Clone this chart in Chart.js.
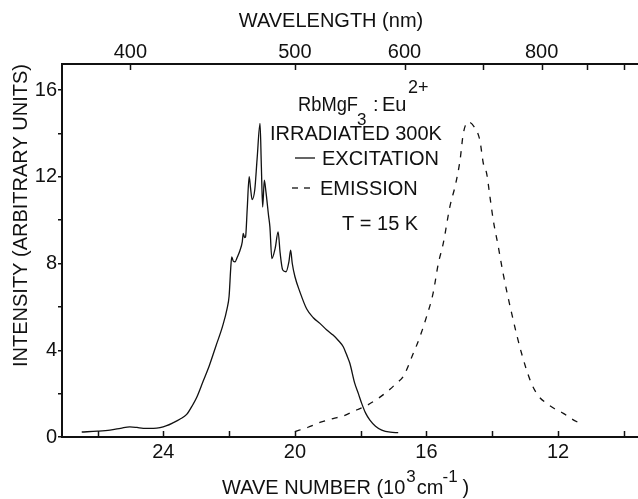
<!DOCTYPE html>
<html>
<head>
<meta charset="utf-8">
<script src="https://cdn.jsdelivr.net/npm/chart.js@4.4.1/dist/chart.umd.min.js"></script>
<style>
  html, body { margin: 0; padding: 0; background: #fff; }
  #chart { display: block; }
</style>
</head>
<body>
<canvas id="chart" width="638" height="499"></canvas>
<script>
// Wave number axis (10^3 cm^-1), drawn reversed
const waveTicks = [26, 24, 22, 20, 18, 16, 14, 12, 10]
const waveLabels = [24, 20, 16, 12]
// Wavelength axis on top (nm)
const wavelengthTicks = [400, 500, 600, 700, 800, 900, 1000]
const wavelengthLabels = [400, 500, 600, 800]
// Intensity axis
const intensityLabels = [0, 4, 8, 12, 16]

// Excitation spectrum (solid)
const excWn = [
  26.48, 26.0, 25.62, 25.3, 25.02, 24.8, 24.61, 24.3, 24.1, 23.9, 23.7, 23.5, 23.29, 23.1, 22.99, 22.79,
  22.6, 22.4, 22.2, 22.06, 22.0, 21.95, 21.92, 21.87, 21.82, 21.75, 21.67, 21.6, 21.57, 21.53, 21.5,
  21.45, 21.39, 21.35, 21.3, 21.22, 21.15, 21.06, 21.02, 20.98, 20.93, 20.88, 20.8, 20.76, 20.7, 20.6,
  20.51, 20.45, 20.37, 20.27, 20.18, 20.13, 20.08, 20.0, 19.85, 19.64, 19.44, 19.24, 19.04, 18.84,
  18.68, 18.53, 18.43, 18.33, 18.18, 18.07, 17.97, 17.85, 17.72, 17.55, 17.36, 17.1, 16.86
]
const excInt = [
  0.23, 0.27, 0.32, 0.4, 0.47, 0.44, 0.4, 0.4, 0.43, 0.52, 0.66, 0.82, 1.04, 1.5, 1.81, 2.57,
  3.3, 4.2, 5.1, 5.93, 6.5, 7.8, 8.31, 8.1, 8.08, 8.3, 8.6, 9.0, 9.39, 9.2, 9.23,
  10.5, 12.0, 11.5, 10.95, 11.4, 12.8, 14.46, 12.5, 10.6, 11.84, 11.3, 10.2, 9.69, 8.23, 8.7,
  9.46, 8.5, 7.7, 7.62, 8.1, 8.62, 8.0, 7.4, 6.7, 5.9, 5.5, 5.24, 4.95, 4.7,
  4.45, 4.16, 3.8, 3.4, 2.47, 2.0, 1.55, 1.1, 0.78, 0.5, 0.32, 0.22, 0.2
]

// Emission spectrum (dashed)
const emWn = [
  20.0, 19.6, 19.24, 18.84, 18.53, 18.2, 17.82, 17.45, 17.11, 16.9, 16.71, 16.4, 16.2, 16.0, 15.8,
  15.64, 15.49, 15.29, 15.11, 14.98, 14.88, 14.73, 14.55, 14.38, 14.27, 14.17, 14.07, 13.97, 13.82,
  13.67, 13.41, 13.11, 12.81, 12.6, 12.35, 12.1, 11.84, 11.6, 11.34
]
const emInt = [
  0.25, 0.45, 0.67, 0.85, 0.97, 1.2, 1.45, 1.8, 2.2, 2.5, 2.78, 3.86, 4.62, 5.54, 6.62,
  8.0, 8.93, 10.61, 11.69, 12.76, 14.0, 14.53, 14.3, 13.7, 12.6, 12.15, 11.07, 10.0, 8.8,
  7.54, 5.7, 3.86, 2.47, 1.9, 1.55, 1.3, 1.09, 0.85, 0.63
]

const ink = '#111'
const fontFamily = "'Liberation Sans', Arial, sans-serif"
const font = { family: fontFamily, size: 20 }

// tick marks pointing into the plot on both horizontal axes
const inwardTicks = {
  id: 'inwardTicks',
  afterDraw(chart) {
    const c = chart.ctx
    const area = chart.chartArea
    c.save()
    c.strokeStyle = ink
    c.lineWidth = 1.5
    ;['x', 'x2'].forEach((id) => {
      const scale = chart.scales[id]
      const y0 = id === 'x' ? area.bottom : area.top
      const dir = id === 'x' ? -1 : 1
      scale.ticks.forEach((t) => {
        const px = Math.round(scale.getPixelForValue(t.value)) + 0.5
        c.beginPath()
        c.moveTo(px, y0)
        c.lineTo(px, y0 + dir * 6)
        c.stroke()
      })
    })
    c.restore()
  }
}

// axis titles with real superscripts, and the sample / legend block
const notes = {
  id: 'notes',
  afterDraw(chart) {
    const c = chart.ctx
    const f = (size) => `${size}px ${fontFamily}`
    c.save()
    c.fillStyle = ink
    c.strokeStyle = ink
    c.textBaseline = 'middle'
    c.textAlign = 'left'

    // top axis title
    c.font = f(20)
    c.textAlign = 'center'
    c.fillText('WAVELENGTH (nm)', 331, 21)
    c.textAlign = 'left'

    // bottom axis title
    let x = 222
    c.fillText('WAVE NUMBER (10', x, 488)
    x += c.measureText('WAVE NUMBER (10').width + 1
    c.font = f(17)
    c.fillText('3', x, 477)
    x += c.measureText('3').width + 1
    c.font = f(20)
    c.fillText('cm', x, 488)
    x += c.measureText('cm').width
    c.font = f(17)
    c.fillText('-1', x - 1, 477)
    x += c.measureText('-1').width + 4
    c.font = f(20)
    c.fillText(')', x, 488)

    // sample label
    c.fillText('RbMgF', 298, 105, 60)
    c.font = f(17)
    c.fillText('3', 357, 120)
    c.font = f(20)
    c.fillText(':', 373, 105)
    c.fillText('Eu', 382, 105)
    c.font = f(18)
    c.fillText('2+', 408, 88)

    c.font = f(20)
    c.fillText('IRRADIATED 300K', 270, 134)

    c.lineWidth = 1.3
    c.beginPath()
    c.moveTo(295, 158)
    c.lineTo(315, 158)
    c.stroke()
    c.fillText('EXCITATION', 322, 159)

    c.setLineDash([6, 6])
    c.beginPath()
    c.moveTo(292, 188)
    c.lineTo(312, 188)
    c.stroke()
    c.setLineDash([])
    c.fillText('EMISSION', 320, 189)

    c.fillText('T = 15 K', 342, 224)
    c.restore()
  }
}

const ctx = document.getElementById('chart').getContext('2d')

new Chart(ctx, {
  type: 'line',
  data: {
    datasets: [
      {
        label: 'EXCITATION',
        data: excWn.map((x, i) => ({ x, y: excInt[i] })),
        borderColor: ink,
        borderWidth: 1.3,
        pointRadius: 0,
        cubicInterpolationMode: 'monotone',
        fill: false
      },
      {
        label: 'EMISSION',
        data: emWn.map((x, i) => ({ x, y: emInt[i] })),
        borderColor: ink,
        borderWidth: 1.3,
        borderDash: [6, 7],
        pointRadius: 0,
        cubicInterpolationMode: 'monotone',
        fill: false
      }
    ]
  },
  options: {
    responsive: false,
    animation: false,
    layout: { padding: 0 },
    plugins: {
      legend: { display: false },
      tooltip: { enabled: false }
    },
    scales: {
      x: {
        type: 'linear',
        position: 'bottom',
        reverse: true,
        min: 9.57,
        max: 27.08,
        afterBuildTicks: (scale) => {
          scale.ticks = waveTicks.map((v) => ({ value: v }))
        },
        afterFit: (scale) => {
          scale.height = 62
        },
        grid: { drawOnChartArea: false, drawTicks: false },
        border: { display: true, color: ink, width: 2 },
        ticks: {
          color: ink,
          font,
          padding: 3,
          maxRotation: 0,
          autoSkip: false,
          callback: (v) => (waveLabels.includes(v) ? String(v) : '')
        }
      },
      x2: {
        type: 'linear',
        position: 'top',
        reverse: true,
        min: 9.57,
        max: 27.08,
        afterBuildTicks: (scale) => {
          scale.ticks = wavelengthTicks.map((l) => ({ value: 1e4 / l }))
        },
        afterFit: (scale) => {
          scale.height = 64
        },
        grid: { drawOnChartArea: false, drawTicks: false },
        border: { display: true, color: ink, width: 2 },
        ticks: {
          color: ink,
          font,
          padding: 0,
          maxRotation: 0,
          autoSkip: false,
          callback: (v, i) => (wavelengthLabels.includes(wavelengthTicks[i]) ? String(wavelengthTicks[i]) : '')
        }
      },
      y: {
        type: 'linear',
        min: 0,
        max: 17.2,
        afterFit: (scale) => {
          scale.width = 62
        },
        grid: { drawOnChartArea: false, drawTicks: true, tickLength: 4, color: ink, lineWidth: 1.5 },
        border: { display: true, color: ink, width: 2 },
        ticks: {
          color: ink,
          font,
          padding: 1,
          stepSize: 2,
          includeBounds: false,
          callback: (v) => (intensityLabels.includes(v) ? String(v) : '')
        },
        title: {
          display: true,
          text: 'INTENSITY (ARBITRARY UNITS)',
          align: 'end',
          color: ink,
          font: { family: fontFamily, size: 20, lineHeight: 1 },
          padding: { top: 11, bottom: 0 }
        }
      }
    }
  },
  plugins: [inwardTicks, notes]
})
</script>
</body>
</html>
